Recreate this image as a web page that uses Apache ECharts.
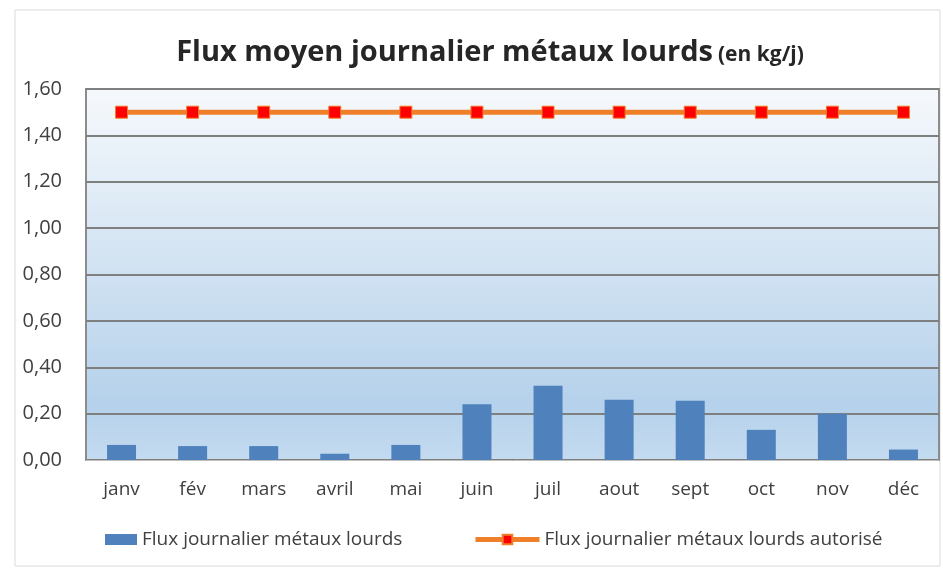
<!DOCTYPE html>
<html>
<head>
<meta charset="utf-8">
<script src="https://cdn.jsdelivr.net/npm/echarts@6/dist/echarts.min.js"></script>
<style>
  html, body { margin: 0; padding: 0; background: #fff; }
</style>
</head>
<body>
<div id="main" style="width: 943px;height:570px;"></div>
<script>
// données
const months = ['janv', 'fév', 'mars', 'avril', 'mai', 'juin', 'juil', 'aout', 'sept', 'oct', 'nov', 'déc'];
const fluxJournalier = [0.065, 0.060, 0.060, 0.027, 0.065, 0.24, 0.32, 0.26, 0.255, 0.13, 0.20, 0.045];
const fluxAutorise = [1.5, 1.5, 1.5, 1.5, 1.5, 1.5, 1.5, 1.5, 1.5, 1.5, 1.5, 1.5];
const seriesNames = ['Flux journalier métaux lourds', 'Flux journalier métaux lourds autorisé'];

const font = '"Open Sans", sans-serif';
const legendText = { fontFamily: font, fontSize: 19, color: '#404040' };

const option = {
  animation: false,
  title: {
    text: '{a|Flux moyen journalier métaux lourds} {b|(en kg/j)}',
    left: 485,
    textAlign: 'center',
    top: 33,
    textStyle: {
      rich: {
        a: { fontFamily: font, fontSize: 29, fontWeight: 'bold', color: '#262626' },
        b: { fontFamily: font, fontSize: 21, fontWeight: 'bold', color: '#262626', padding: [5, 0, 0, 0] }
      }
    }
  },
  graphic: [{
    type: 'rect',
    shape: { x: 15, y: 10, width: 925, height: 556 },
    style: { fill: 'none', stroke: '#d9d9d9', lineWidth: 1 },
    silent: true,
    z: -10
  }],
  legend: [
    {
      top: 525,
      left: 100,
      itemWidth: 32,
      itemHeight: 11,
      textStyle: legendText,
      data: [{ name: seriesNames[0], icon: 'rect' }]
    },
    {
      top: 525,
      left: 468,
      itemWidth: 64,
      itemHeight: 12,
      textStyle: legendText,
      lineStyle: { width: 5 },
      data: [{ name: seriesNames[1], lineStyle: { width: 5 } }]
    }
  ],
  grid: {
    left: 86,
    right: 4,
    top: 89,
    bottom: 110,
    show: true,
    borderColor: '#8c8c8c',
    borderWidth: 2,
    backgroundColor: new echarts.graphic.LinearGradient(0, 0, 0, 1, [
      { offset: 0, color: '#f6f9fc' },
      { offset: 0.85, color: '#b5d1eb' },
      { offset: 1, color: '#c4dbf0' }
    ])
  },
  xAxis: {
    type: 'category',
    data: months,
    axisTick: { show: false },
    axisLine: { lineStyle: { color: '#bfbfbf', width: 1 } },
    axisLabel: { fontFamily: font, fontSize: 19, color: '#404040', margin: 20 }
  },
  yAxis: {
    type: 'value',
    min: 0,
    max: 1.6,
    interval: 0.2,
    axisLine: { show: false },
    axisTick: { show: false },
    axisLabel: {
      fontFamily: font,
      fontSize: 20,
      color: '#404040',
      margin: 24,
      formatter: v => v.toFixed(2).replace('.', ',')
    },
    splitLine: { lineStyle: { color: '#7f7f7f', width: 2 } }
  },
  series: [
    {
      name: seriesNames[0],
      type: 'bar',
      data: fluxJournalier,
      barWidth: 29,
      itemStyle: { color: '#4f81bd' }
    },
    {
      name: seriesNames[1],
      type: 'line',
      data: fluxAutorise,
      symbol: 'rect',
      symbolSize: 12,
      lineStyle: { color: '#f07f2a', width: 5 },
      itemStyle: { color: '#ff0000', borderColor: '#f07f2a', borderWidth: 1 }
    }
  ]
};

const myChart = echarts.init(document.getElementById('main'));
myChart.setOption(option);
</script>
</body>
</html>
